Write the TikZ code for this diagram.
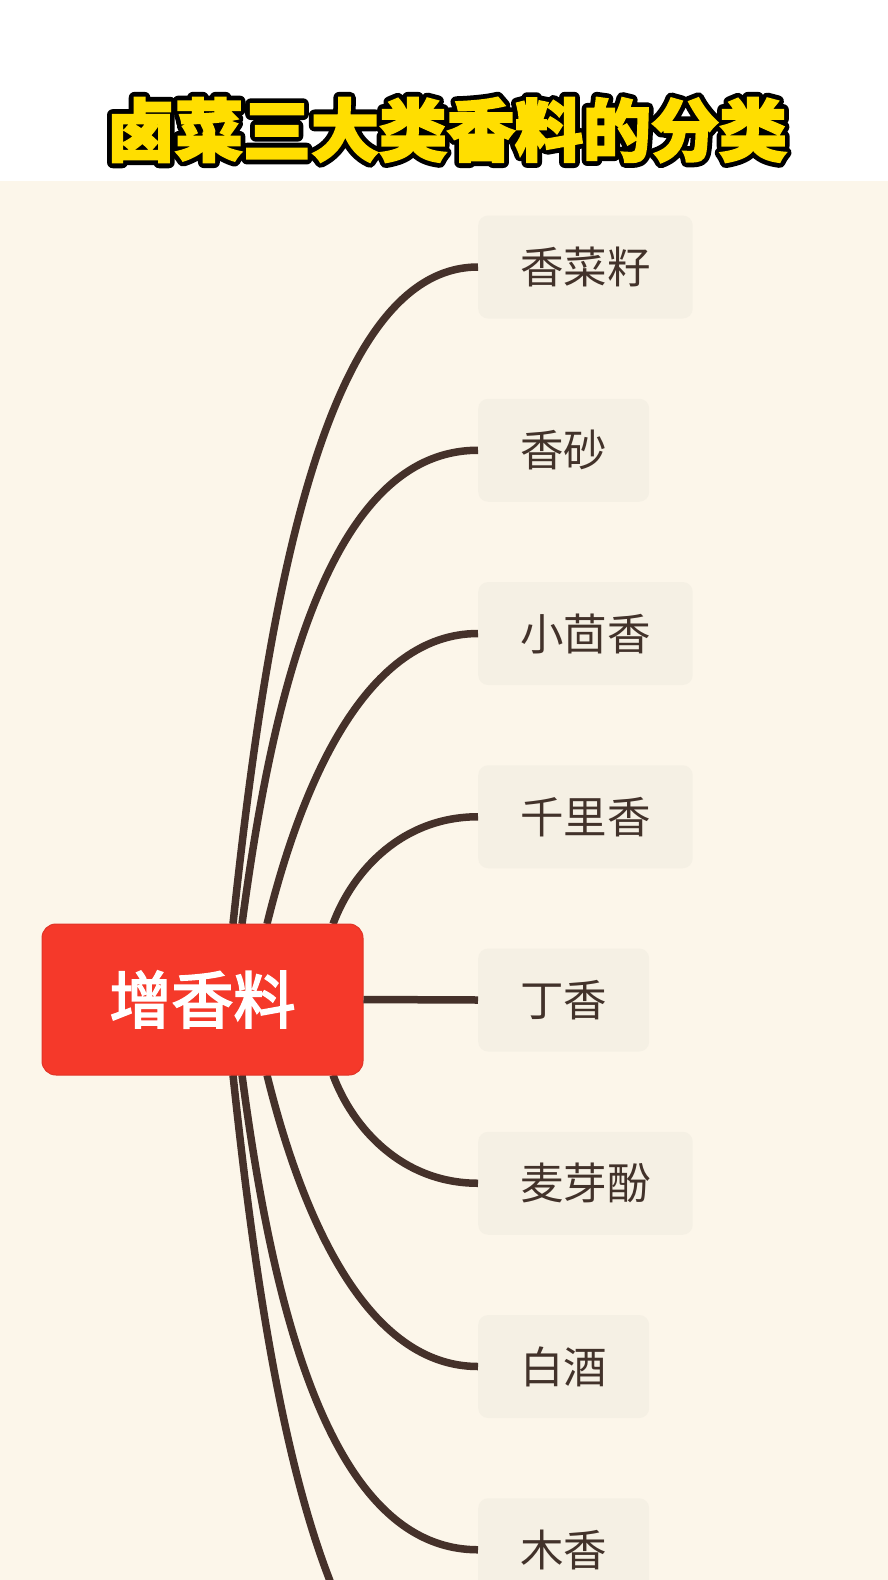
\documentclass[tikz,border=0pt]{standalone}
\usepackage{fontspec}
\setmainfont{Noto Sans CJK SC}
\newfontfamily\titlefont{Noto Sans CJK SC}[BoldFeatures={FakeBold=3}]
\newfontfamily\titleedge{Noto Sans CJK SC}[BoldFeatures={FakeBold=17}]
\newfontfamily\rootfont{Noto Sans CJK SC}[FakeBold=3]
\definecolor{bgcream}{RGB}{252, 246, 234}
\definecolor{leaffill}{RGB}{245, 240, 228}
\definecolor{branchbrown}{RGB}{69, 49, 42}
\definecolor{leaftext}{RGB}{66, 50, 42}
\definecolor{rootred}{RGB}{245, 57, 42}
\definecolor{titleyellow}{RGB}{255, 222, 0}
\tikzset{
    leafbox/.style={fill=leaffill, rounded corners=10pt, anchor=west,
        minimum height=103pt, inner xsep=42pt, text=leaftext,
        font=\fontsize{43.5}{43.5}\selectfont},
    rootnode/.style={fill=rootred, draw=rootred!92!black, line width=1pt,
        rounded corners=14pt, minimum width=321pt, minimum height=151pt,
        text=white, font=\fontsize{62}{62}\rootfont},
    branch/.style={draw=branchbrown, line width=7.5pt},
}

\begin{document}
\begin{tikzpicture}[x=1pt, y=-1pt]
    \useasboundingbox (0, 0) rectangle (888, 1580);
    \clip (0, 0) rectangle (888, 1580);
    \fill[white] (0, 0) rectangle (888, 181);
    \fill[bgcream] (0, 181) rectangle (888, 1580);
    % title: a fat black copy under the yellow one makes the outline
    \node[text=black, line join=round,
        font=\fontsize{68}{68}\titleedge\bfseries]
        (titleedge) at (447, 130) {卤菜三大类香料的分类};
    \node[text=titleyellow, font=\fontsize{68}{68}\titlefont\bfseries]
        (title) at (titleedge) {卤菜三大类香料的分类};
    % leaves on the right, all with the same left edge
    \foreach \i/\txt/\y in {0/香菜籽/267, 1/香砂/450.25, 2/小茴香/633.5,
        3/千里香/816.75, 4/丁香/1000, 5/麦芽酚/1183.25, 6/白酒/1366.5,
        7/木香/1549.75} {
        \node[leafbox] (leaf\i) at (478, \y) {\txt};
    }
    \coordinate (leaf8) at (478, 1733);
    % curved branches, drawn under the root box
    \foreach \i/\sx/\sy/\ax/\ay/\bx in {0/233/924/265/624/320,
        1/242/924/272/698/328, 2/267/924/303/778/368, 3/333/924/353/870/403,
        5/333/1075/353/1129/403, 6/267/1075/303/1221/368,
        7/242/1075/272/1301/328, 8/233/1075/265/1375/320} {
        \draw[branch] (\sx, \sy) .. controls (\ax, \ay) and (\bx, 0 |- leaf\i)
            .. (leaf\i.west);
    }
    \node[rootnode] (root) at (202.5, 999.5) {增香料};
    \draw[branch] (root.east) -- (leaf4.west);
\end{tikzpicture}
\end{document}
